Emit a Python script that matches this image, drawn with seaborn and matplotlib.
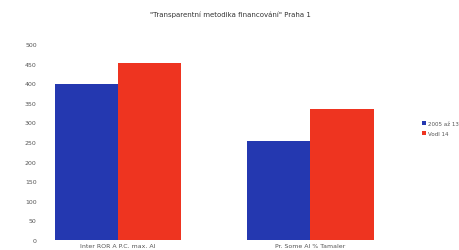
import matplotlib
matplotlib.use("Agg")
import matplotlib.pyplot as plt
import seaborn as sns
import pandas as pd

categories = ["Inter ROR A P.C. max. Al", "Pr. Some Al % Tamaler"]
series_names = ["2005 až 13", "Vodl 14"]
series_a = [398, 253]
series_b = [451, 334]
yticks = [0, 50, 100, 150, 200, 250, 300, 350, 400, 450, 500]
title = "\"Transparentní metodika financování\" Praha 1"

df = pd.DataFrame({
    "cat": categories * 2,
    "series": [series_names[0]] * 2 + [series_names[1]] * 2,
    "val": series_a + series_b,
})

sns.set_theme(style="white")
plt.rcParams['font.family'] = ['DejaVu Sans']
fig = plt.figure(figsize=(4.6, 2.51), dpi=100)
ax = fig.add_axes([0.098, 0.04, 0.735, 0.78])
sns.barplot(data=df, x="cat", y="val", hue="series",
            palette=["#2438b0", "#ee3420"], width=0.66, ax=ax,
            saturation=1, legend=True, linewidth=0, edgecolor="none")
ax.set_xlim(-0.38, 1.38)
ax.set_ylim(0, 500)
ax.set_yticks(yticks)
ax.set_yticklabels([str(t) for t in yticks], fontsize=4.5, color="#555555")
ax.tick_params(axis="x", labelsize=4.5, colors="#555555", pad=2, length=0)
ax.tick_params(axis="y", length=0, pad=6)
ax.set_xlabel("")
ax.set_ylabel("")
for s in ax.spines.values():
    s.set_visible(False)
fig.suptitle(title, fontsize=5, y=0.955, color="#333333")
leg = ax.legend(loc="center left", bbox_to_anchor=(1.1, 0.57), frameon=False,
                fontsize=4, handlelength=0.8, handleheight=0.8, handletextpad=0.3,
                labelspacing=0.8)
for t in leg.get_texts():
    t.set_color("#555555")
fig.savefig("out.png", dpi=100)
